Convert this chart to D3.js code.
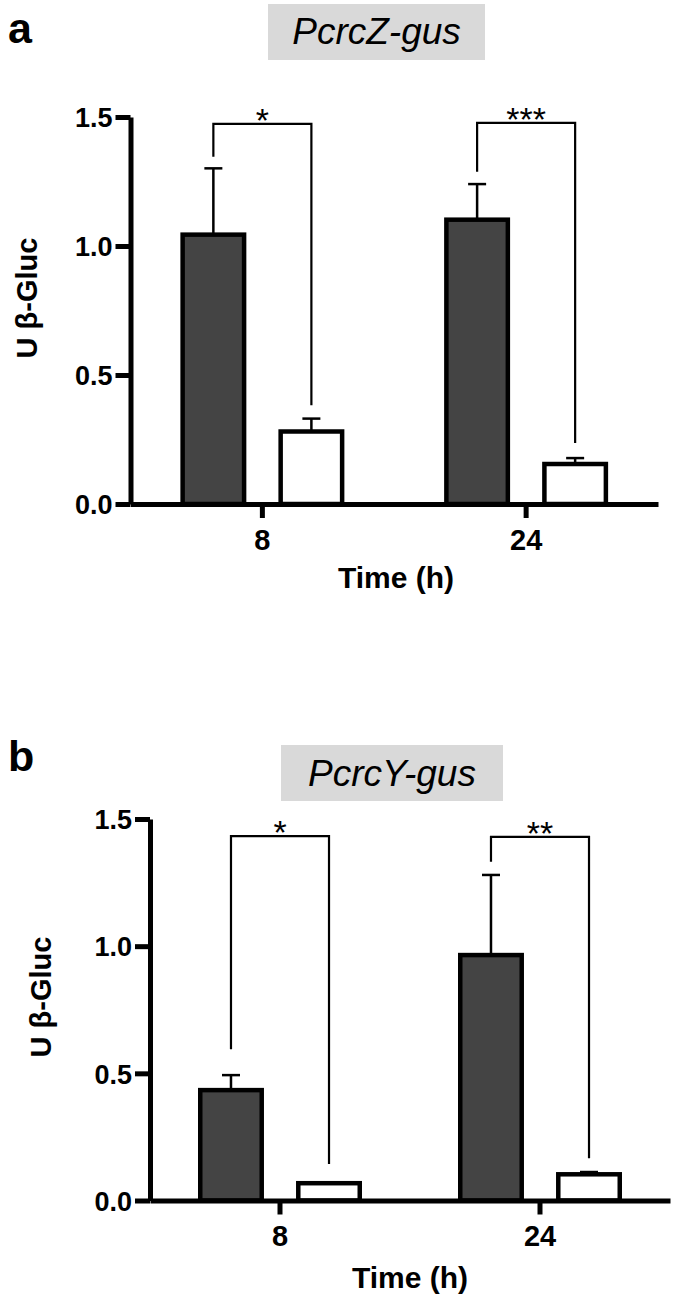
<!DOCTYPE html>
<html>
<head>
<meta charset="utf-8">
<script src="https://cdn.jsdelivr.net/npm/d3@7"></script>
<style>
  html, body { margin: 0; padding: 0; background: #fff; }
  svg { display: block; }
  text { font-family: "Liberation Sans", Arial, Helvetica, sans-serif; }
</style>
</head>
<body>
<svg id="chart" width="675" height="1298"></svg>
<script>
// ---------- data ----------
const times = ["8", "24"];
const groups = ["dark", "white"];
const yTicks = [0.0, 0.5, 1.0, 1.5];
const yMax = 1.5;

// panel a : PcrcZ-gus
const aTitle = "PcrcZ-gus";
const aDark = [1.044, 1.102];
const aDarkErr = [0.257, 0.138];
const aWhite = [0.281, 0.155];
const aWhiteErr = [0.050, 0.023];
const aSig = ["*", "***"];
const aBracketTop = [1.473, 1.477];
const aBracketLeftEnd = [1.346, 1.288];
const aBracketRightEnd = [0.383, 0.236];

// panel b : PcrcY-gus
const bTitle = "PcrcY-gus";
const bDark = [0.434, 0.965];
const bDarkErr = [0.059, 0.315];
const bWhite = [0.068, 0.103];
const bWhiteErr = [0.0, 0.009];
const bSig = ["*", "**"];
const bBracketTop = [1.433, 1.430];
const bBracketLeftEnd = [0.595, 1.332];
const bBracketRightEnd = [0.144, 0.166];

const yLabel = "U \u03B2-Gluc";
const xLabel = "Time (h)";

// ---------- layout ----------
const svg = d3.select("#chart");
const FONT = '"Liberation Sans", Arial, Helvetica, sans-serif';

const panels = [
  { letter: "a", letterX: 8, letterY: 43,
    title: aTitle, box: [268, 4, 217, 56], titleY: 44,
    x0: 130.5, x1: 658, y0: 504, yTop: 117,
    yLabelX: 27, yLabelY: 298, xLabelX: 396, xLabelY: 588,
    dark: aDark, darkErr: aDarkErr, white: aWhite, whiteErr: aWhiteErr,
    sig: aSig, bTop: aBracketTop, bL: aBracketLeftEnd, bR: aBracketRightEnd },
  { letter: "b", letterX: 8, letterY: 771,
    title: bTitle, box: [281, 745, 222, 56], titleY: 786,
    x0: 150, x1: 670, y0: 1200.5, yTop: 819,
    yLabelX: 41, yLabelY: 997, xLabelX: 410, xLabelY: 1288,
    dark: bDark, darkErr: bDarkErr, white: bWhite, whiteErr: bWhiteErr,
    sig: bSig, bTop: bBracketTop, bL: bBracketLeftEnd, bR: bBracketRightEnd }
];

panels.forEach(p => {
  const g = svg.append("g");

  // panel letter
  g.append("text").attr("x", p.letterX).attr("y", p.letterY)
    .attr("font-size", 43).attr("font-weight", "bold").attr("fill", "#000")
    .text(p.letter);

  // title box
  g.append("rect").attr("x", p.box[0]).attr("y", p.box[1])
    .attr("width", p.box[2]).attr("height", p.box[3]).attr("fill", "#d9d9d9");
  g.append("text").attr("x", p.box[0] + p.box[2] / 2).attr("y", p.titleY)
    .attr("text-anchor", "middle").attr("font-size", 37).attr("font-style", "italic")
    .attr("fill", "#000").text(p.title);

  // scales
  const x = d3.scaleBand().domain(times).range([p.x0, p.x1]).padding(0);
  const xs = d3.scaleBand().domain(groups).range([-82, 82]).paddingInner(0.327).paddingOuter(0);
  const y = d3.scaleLinear().domain([0, yMax]).range([p.y0, p.yTop]);
  const cx = t => x(t) + x.bandwidth() / 2;

  // bars
  const rows = [];
  times.forEach((t, i) => {
    rows.push({ t, grp: "dark", v: p.dark[i], e: p.darkErr[i] });
    rows.push({ t, grp: "white", v: p.white[i], e: p.whiteErr[i] });
  });
  const sw = 4.5;
  const bw = xs.bandwidth();

  // error bars (drawn first so bar covers base)
  rows.forEach(r => {
    const bx = cx(r.t) + xs(r.grp) + bw / 2;
    if (r.e > 0) {
      g.append("line").attr("x1", bx).attr("x2", bx)
        .attr("y1", y(r.v)).attr("y2", y(r.v + r.e))
        .attr("stroke", "#000").attr("stroke-width", 2.5);
      g.append("line").attr("x1", bx - 9).attr("x2", bx + 9)
        .attr("y1", y(r.v + r.e)).attr("y2", y(r.v + r.e))
        .attr("stroke", "#000").attr("stroke-width", 2.5);
    }
  });
  rows.forEach(r => {
    const left = cx(r.t) + xs(r.grp);
    g.append("rect")
      .attr("x", left + sw / 2).attr("width", bw - sw)
      .attr("y", y(r.v)).attr("height", y(0) - y(r.v))
      .attr("fill", r.grp === "dark" ? "#444444" : "#ffffff")
      .attr("stroke", "#000").attr("stroke-width", sw);
  });

  // significance brackets
  times.forEach((t, i) => {
    const lx = cx(t) + xs("dark") + bw / 2;
    const rx = cx(t) + xs("white") + bw / 2;
    g.append("path")
      .attr("d", `M${lx},${y(p.bL[i])}V${y(p.bTop[i])}H${rx}V${y(p.bR[i])}`)
      .attr("fill", "none").attr("stroke", "#000").attr("stroke-width", 2.2);
    g.append("text").attr("x", (lx + rx) / 2).attr("y", y(p.bTop[i]) + 8)
      .attr("text-anchor", "middle").attr("font-size", 34).attr("fill", "#000")
      .text(p.sig[i]);
  });

  // y axis
  const yAxis = g.append("g").attr("transform", `translate(${p.x0},0)`)
    .call(d3.axisLeft(y).tickValues(yTicks).tickFormat(d3.format(".1f"))
      .tickSize(15).tickSizeOuter(0).tickPadding(3));
  yAxis.select(".domain").attr("stroke", "#000").attr("stroke-width", 5);
  yAxis.selectAll(".tick line").attr("stroke", "#000").attr("stroke-width", 5);
  yAxis.selectAll(".tick text").attr("font-family", FONT).attr("font-size", 27)
    .attr("font-weight", "bold").attr("fill", "#000").attr("dy", "0.36em");

  // x axis
  const xAxis = g.append("g").attr("transform", `translate(0,${p.y0})`)
    .call(d3.axisBottom(x).tickSize(14).tickSizeOuter(0).tickPadding(11));
  xAxis.select(".domain").attr("stroke", "#000").attr("stroke-width", 5);
  xAxis.selectAll(".tick line").attr("stroke", "#000").attr("stroke-width", 5);
  xAxis.selectAll(".tick text").attr("font-family", FONT).attr("font-size", 29)
    .attr("font-weight", "bold").attr("fill", "#000");

  // axis titles
  g.append("text")
    .attr("transform", `translate(${p.yLabelX},${p.yLabelY}) rotate(-90)`)
    .attr("text-anchor", "middle").attr("dy", "0.36em")
    .attr("font-size", 29).attr("font-weight", "bold").attr("fill", "#000")
    .text(yLabel);
  g.append("text").attr("x", p.xLabelX).attr("y", p.xLabelY)
    .attr("text-anchor", "middle").attr("font-size", 30).attr("font-weight", "bold")
    .attr("fill", "#000").text(xLabel);
});
</script>
</body>
</html>
